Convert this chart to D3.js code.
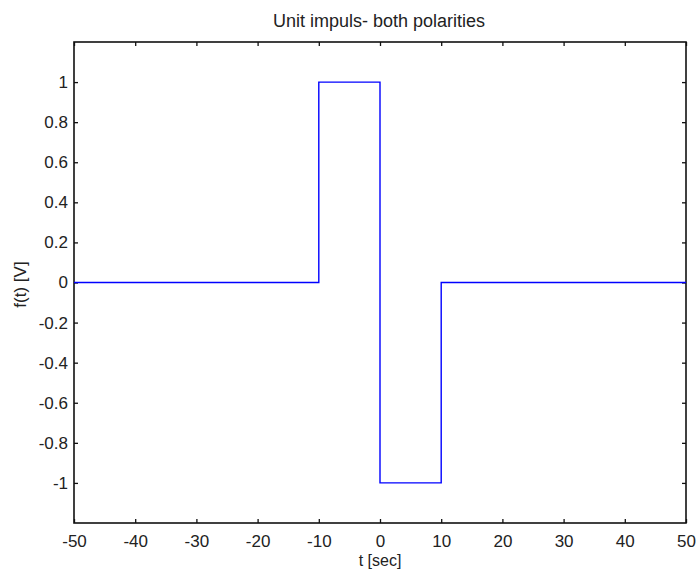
<!DOCTYPE html>
<html>
<head>
<meta charset="utf-8">
<script src="https://cdn.jsdelivr.net/npm/d3@7"></script>
<style>
  body { margin: 0; background: #fff; }
  text { font-family: "Liberation Sans", Arial, sans-serif; fill: #222; }
</style>
</head>
<body>
<div class="chart"></div>
<script>
// DATA
var tValues = [-50, -10, -10, 0, 0, 10, 10, 50]
var fValues = [0, 0, 1, 1, -1, -1, 0, 0]
var xTicks = [-50, -40, -30, -20, -10, 0, 10, 20, 30, 40, 50]
var yTicks = [-1, -0.8, -0.6, -0.4, -0.2, 0, 0.2, 0.4, 0.6, 0.8, 1]

var w = 697, h = 571
var m = {left: 74, right: 11, top: 42, bottom: 48}

var svg = d3.select(".chart").append('svg')
    .attr('width', w)
    .attr('height', h)

var x = d3.scaleLinear().domain([-50, 50]).range([m.left, w - m.right])
var y = d3.scaleLinear().domain([-1.2, 1.2]).range([h - m.bottom, m.top])

// plain hyphen minus like the original plot
var fmt = function(d){ return String(+d.toFixed(1)) }

// AXES (ticks inside, mirrored on all sides)
function styleAxis(g){
    g.select('.domain').remove()
    g.selectAll('line').attr('stroke', '#111').attr('stroke-width', 1.3)
    g.selectAll('text').style('font-size', '17px').style('fill', '#222')
}

svg.append('g')
    .attr('transform', 'translate(0,' + (h - m.bottom) + ')')
    .call(d3.axisBottom(x).tickValues(xTicks).tickSize(-4).tickPadding(12).tickFormat(fmt))
    .call(styleAxis)

svg.append('g')
    .attr('transform', 'translate(0,' + m.top + ')')
    .call(d3.axisTop(x).tickValues(xTicks).tickSize(-4).tickFormat(''))
    .call(styleAxis)

svg.append('g')
    .attr('transform', 'translate(' + m.left + ',0)')
    .call(d3.axisLeft(y).tickValues(yTicks).tickSize(-4).tickPadding(6).tickFormat(fmt))
    .call(styleAxis)

svg.append('g')
    .attr('transform', 'translate(' + (w - m.right) + ',0)')
    .call(d3.axisRight(y).tickValues(yTicks).tickSize(-4).tickFormat(''))
    .call(styleAxis)

// FRAME
svg.append('rect')
    .attr('x', m.left).attr('y', m.top)
    .attr('width', w - m.left - m.right)
    .attr('height', h - m.top - m.bottom)
    .attr('fill', 'none')
    .attr('stroke', '#111')
    .attr('stroke-width', 1.6)

// SIGNAL
var pts = tValues.map(function(t, i){ return [t, fValues[i]] })
var line = d3.line()
    .x(function(d){ return x(d[0]) })
    .y(function(d){ return y(d[1]) })

svg.append('path')
    .datum(pts)
    .attr('d', line)
    .attr('fill', 'none')
    .attr('stroke', '#0000ff')
    .attr('stroke-width', 1.4)

// LABELS
svg.append('text')
    .attr('x', (m.left + w - m.right) / 2 - 1)
    .attr('y', 27)
    .attr('text-anchor', 'middle')
    .style('font-size', '18px')
    .text('Unit impuls- both polarities')

svg.append('text')
    .attr('x', (m.left + w - m.right) / 2)
    .attr('y', 566)
    .attr('text-anchor', 'middle')
    .style('font-size', '16px')
    .text('t [sec]')

svg.append('text')
    .attr('transform', 'translate(26,' + (y(0) + 2) + ') rotate(-90)')
    .attr('text-anchor', 'middle')
    .style('font-size', '17px')
    .text('f(t) [V]')
</script>
</body>
</html>
